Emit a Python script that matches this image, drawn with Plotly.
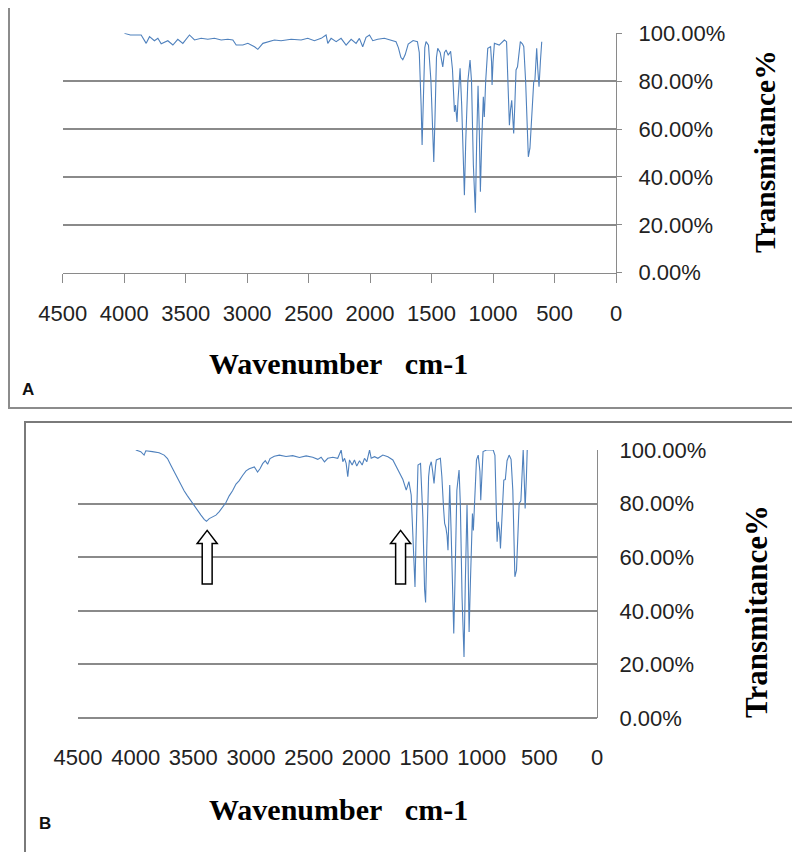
import plotly.graph_objects as go

# ---------------- data ----------------
X_TICKS = [4500, 4000, 3500, 3000, 2500, 2000, 1500, 1000, 500, 0]
Y_TICKS = [0, 20, 40, 60, 80, 100]
Y_TICK_TEXT = ["0.00%", "20.00%", "40.00%", "60.00%", "80.00%", "100.00%"]

# Panel A spectrum: wavenumber (cm-1) and transmittance (%)
A_WN = [3998, 3950, 3916, 3862, 3821, 3794, 3754, 3726, 3699, 3645, 3604, 3564, 3523, 3469,
        3428, 3374, 3320, 3266, 3211, 3157, 3116, 3089, 3035, 2994, 2940, 2913, 2872, 2832,
        2778, 2724, 2642, 2561, 2507, 2453, 2398, 2358, 2344, 2317, 2276, 2236, 2195, 2154,
        2114, 2087, 2060, 2033, 2005, 1978, 1938, 1884, 1829, 1789, 1770, 1750, 1734, 1715,
        1690, 1650, 1615, 1600, 1585, 1577, 1568, 1555, 1545, 1525, 1505, 1490, 1482, 1472,
        1460, 1450, 1430, 1409, 1395, 1382, 1365, 1355, 1345, 1330, 1314, 1305, 1293, 1285,
        1268, 1255, 1240, 1233, 1222, 1205, 1187, 1175, 1160, 1144, 1133, 1122, 1112, 1103,
        1092, 1079, 1071, 1060, 1043, 1020, 1012, 1008, 1000, 989, 950, 908, 890, 878, 867,
        858, 848, 840, 832, 823, 813, 801, 790, 778, 760, 750, 735, 720, 713, 700, 691, 680,
        669, 660, 645, 636, 626, 615, 604]
A_T = [100, 99.3, 99.3, 99.3, 95.8, 98.6, 96.9, 97.9, 95.6, 96.9, 95.1, 97.5, 95.8, 99.3,
       97.2, 97.9, 97.5, 97.9, 97.2, 97.5, 97.2, 95.1, 95.1, 95.8, 94.4, 93.3, 95.8, 96.5,
       97.2, 96.9, 97.5, 97.2, 97.9, 96.9, 97.9, 99.3, 95.8, 97.9, 96.5, 97.9, 95.1, 97.5,
       95.8, 97.9, 94.4, 98.3, 99.3, 96.9, 97.5, 97.9, 97.2, 96.5, 94.0, 90.0, 89.0, 91.0,
       95.5, 97.0, 96.5, 92.0, 70.0, 53.3, 70.0, 94.0, 96.5, 95.0, 80.0, 55.0, 46.3, 65.0,
       90.0, 93.7, 92.0, 86.0, 92.0, 93.0, 91.0, 91.6, 92.5, 85.0, 67.2, 70.0, 63.0, 72.0,
       85.4, 70.0, 40.0, 32.4, 55.0, 80.0, 88.8, 80.0, 45.0, 25.0, 55.0, 78.1, 60.0, 33.8,
       55.0, 73.5, 65.0, 80.0, 93.7, 94.4, 88.0, 78.4, 88.0, 95.8, 95.1, 97.2, 96.5, 80.0, 61.6,
       68.0, 72.0, 65.0, 58.2, 70.0, 84.7, 86.0, 92.0, 96.5, 95.5, 94.4, 80.0, 55.0, 48.4, 52.0,
       59.6, 72.0, 79.8, 80.0, 93.7, 85.0, 77.7, 88.0, 96.5]

# Panel B spectrum
B_WN = [3999, 3956, 3927, 3912, 3855, 3797, 3753, 3724, 3695, 3666, 3637, 3608, 3580, 3551,
        3521, 3493, 3464, 3434, 3406, 3386, 3362, 3334, 3304, 3275, 3247, 3217, 3189, 3160,
        3130, 3102, 3073, 3043, 3015, 2971, 2943, 2922, 2899, 2876, 2856, 2835, 2798, 2754,
        2696, 2639, 2580, 2522, 2465, 2421, 2392, 2363, 2334, 2291, 2248, 2218, 2204, 2189,
        2175, 2161, 2146, 2123, 2103, 2083, 2059, 2036, 2016, 1996, 1972, 1958, 1929, 1900,
        1857, 1813, 1770, 1740, 1712, 1683, 1654, 1631, 1611, 1598, 1585, 1578, 1570, 1560,
        1552, 1530, 1510, 1495, 1486, 1475, 1460, 1451, 1437, 1425, 1413, 1400, 1393, 1358,
        1345, 1330, 1321, 1310, 1300, 1292, 1285, 1277, 1265, 1250, 1242, 1232, 1215, 1196,
        1185, 1170, 1153, 1142, 1127, 1118, 1109, 1098, 1085, 1080, 1072, 1060, 1045, 1030,
        1015, 1008, 1000, 988, 958, 930, 900, 885, 875, 866, 856, 845, 837, 825, 808, 795,
        780, 762, 745, 730, 720, 712, 698, 685, 675, 660, 650, 640, 630, 623, 612, 605]
B_T = [100, 99.4, 98.1, 99.7, 99.4, 99.0, 98.1, 96.8, 94.3, 91.8, 89.2, 86.7, 84.8, 82.9,
       81.0, 79.1, 77.2, 75.7, 74.1, 73.4, 74.4, 74.9, 75.7, 77.0, 78.5, 80.4, 82.9, 84.8,
       87.3, 88.6, 90.5, 92.2, 93.0, 93.7, 91.8, 93.0, 94.9, 96.0, 94.7, 96.8, 97.7, 98.1,
       97.6, 97.9, 97.2, 97.8, 97.3, 96.5, 97.3, 95.6, 96.9, 97.3, 96.9, 100, 95.6, 96.9,
       95.0, 90.0, 96.3, 94.4, 96.3, 94.0, 96.0, 94.4, 96.9, 95.6, 100, 96.9, 97.5, 96.9,
       98.1, 97.5, 96.3, 93.8, 91.9, 89.0, 85.0, 88.2, 83.2, 70.0, 52.0, 48.9, 65.0, 90.0,
       94.4, 95.0, 75.0, 48.0, 43.1, 65.0, 90.0, 93.8, 95.6, 92.0, 87.5, 94.0, 96.3, 96.9,
       90.0, 78.0, 72.6, 71.0, 68.0, 62.6, 75.0, 86.9, 70.0, 40.0, 31.5, 50.0, 85.0, 92.5,
       80.0, 45.0, 22.8, 50.0, 79.5, 60.0, 32.1, 50.0, 72.0, 76.3, 70.0, 85.0, 96.3, 98.1,
       92.0, 81.3, 92.0, 99.4, 100, 100, 100, 98.0, 85.0, 65.8, 73.2, 70.0, 63.3, 75.0, 88.8, 89.0,
       96.0, 98.1, 96.5, 85.0, 60.0, 52.7, 55.2, 70.0, 80.1, 81.0, 92.0, 100, 88.0, 78.2, 90.0, 100]

# Hollow arrows in panel B (wavenumber position, base and tip transmittance)
ARROW_WN = [3380, 1703]
ARROW_T_BASE = 50
ARROW_T_TIP = 70

X_TITLE = "Wavenumber\u00a0\u00a0\u00a0cm-1"
Y_TITLE = "Transmitance%"

# ---------------- figure ----------------
W, H = 800, 852
OFF = 8  # page body margin: the figure is drawn 8 px in from the window corner
LINE_COLOR = "#4F81BD"
GRID = "#8a8a8a"
TICK_FONT = dict(family="Liberation Sans", size=22, color="#222222")
TITLE_FONT = dict(family="Liberation Serif", size=30, color="#000000", weight="bold")


def px_x(p):
    return (p - OFF) / W


def px_y(p):
    return 1 - (p - OFF) / H


fig = go.Figure()
fig.add_trace(go.Scatter(x=A_WN, y=A_T, mode="lines", xaxis="x", yaxis="y",
                         line=dict(color=LINE_COLOR, width=1.1), showlegend=False))
fig.add_trace(go.Scatter(x=B_WN, y=B_T, mode="lines", xaxis="x2", yaxis="y2",
                         line=dict(color=LINE_COLOR, width=1.1), showlegend=False))

fig.update_layout(
    width=W, height=H,
    margin=dict(l=0, r=0, t=0, b=0, pad=0, autoexpand=False),
    paper_bgcolor="white", plot_bgcolor="white",
    showlegend=False,
    xaxis=dict(domain=[px_x(62.7), px_x(616)], range=[4500, 0], anchor="y", automargin=False,
               tickvals=X_TICKS, ticktext=[str(v) for v in X_TICKS],
               ticks="outside", ticklen=9, tickwidth=1, tickcolor=GRID,
               showline=True, linecolor=GRID, linewidth=1.2, showgrid=False,
               zeroline=False, tickfont=TICK_FONT, ticklabelstandoff=12),
    yaxis=dict(domain=[px_y(272.7), px_y(33.3)], range=[0, 100], anchor="x", side="right",
               automargin=False,
               tickvals=Y_TICKS, ticktext=Y_TICK_TEXT,
               ticks="outside", ticklen=5, tickcolor=GRID,
               showline=True, linecolor=GRID, linewidth=1.2,
               showgrid=True, gridcolor=GRID, gridwidth=1.5, zeroline=False,
               tickfont=TICK_FONT, ticklabelstandoff=12),
    xaxis2=dict(domain=[px_x(78), px_x(597)], range=[4500, 0], anchor="y2", automargin=False,
                tickvals=X_TICKS, ticktext=[str(v) for v in X_TICKS],
                ticks="", showline=False, showgrid=False, zeroline=False,
                tickfont=TICK_FONT, ticklabelstandoff=24),
    yaxis2=dict(domain=[px_y(718), px_y(450)], range=[0, 100], anchor="x2", side="right",
                automargin=False,
                tickvals=Y_TICKS, ticktext=Y_TICK_TEXT, ticks="",
                showline=True, linecolor=GRID, linewidth=1.2,
                showgrid=True, gridcolor=GRID, gridwidth=1.5,
                zeroline=True, zerolinecolor=GRID, zerolinewidth=1.5,
                tickfont=TICK_FONT, ticklabelstandoff=17),
)

# panel frames
fig.add_shape(type="rect", xref="paper", yref="paper",
              x0=px_x(9), x1=px_x(797), y0=px_y(408), y1=px_y(5),
              line=dict(color="#8c8c8c", width=2), fillcolor="rgba(0,0,0,0)", layer="below")
fig.add_shape(type="rect", xref="paper", yref="paper",
              x0=px_x(25), x1=px_x(793), y0=px_y(880), y1=px_y(422),
              line=dict(color="#7a7a7a", width=2), fillcolor="rgba(0,0,0,0)", layer="below")

# hollow arrows (panel B)
HALF_SHAFT, HALF_HEAD, HEAD_H = 43, 87, 4.9
for c in ARROW_WN:
    b, t = ARROW_T_BASE, ARROW_T_TIP
    path = (f"M {c - HALF_SHAFT},{b} L {c - HALF_SHAFT},{t - HEAD_H} L {c - HALF_HEAD},{t - HEAD_H} "
            f"L {c},{t} L {c + HALF_HEAD},{t - HEAD_H} L {c + HALF_SHAFT},{t - HEAD_H} "
            f"L {c + HALF_SHAFT},{b} Z")
    fig.add_shape(type="path", xref="x2", yref="y2", path=path,
                  fillcolor="white", line=dict(color="black", width=1.5))

# titles and panel labels
ann = [
    dict(text=X_TITLE, x=px_x(338), y=px_y(363), font=TITLE_FONT),
    dict(text=Y_TITLE, x=px_x(765), y=px_y(152), textangle=-90,
         font=dict(family="Liberation Serif", size=29.5, color="#000000", weight="bold")),
    dict(text=X_TITLE, x=px_x(338), y=px_y(809), font=TITLE_FONT),
    dict(text=Y_TITLE, x=px_x(756), y=px_y(612), textangle=-90,
         font=dict(family="Liberation Serif", size=31, color="#000000", weight="bold")),
    dict(text="A", x=px_x(28), y=px_y(390),
         font=dict(family="Liberation Sans", size=17, color="#111111", weight="bold")),
    dict(text="B", x=px_x(45), y=px_y(823),
         font=dict(family="Liberation Sans", size=17, color="#111111", weight="bold")),
]
for a in ann:
    fig.add_annotation(xref="paper", yref="paper", showarrow=False,
                       xanchor="center", yanchor="middle", **a)

fig.write_html("out.html")
